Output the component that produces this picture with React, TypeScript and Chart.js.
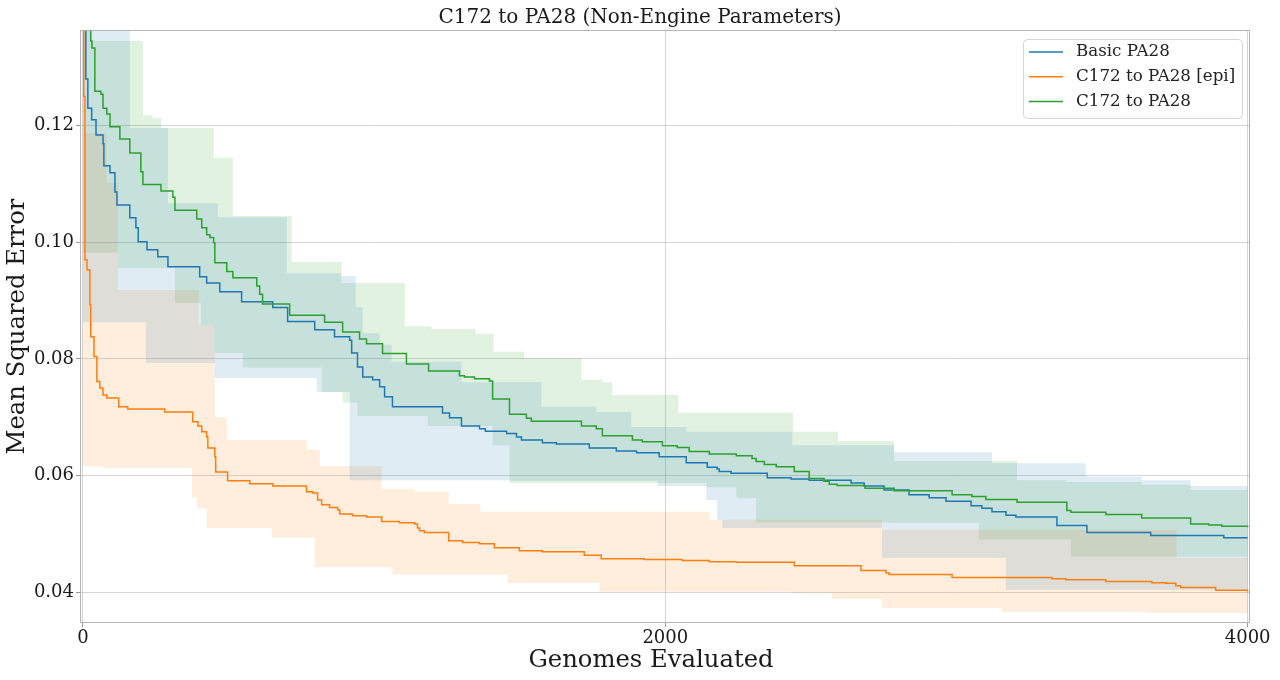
import React, { useEffect, useRef } from 'react';
import { Chart, registerables } from 'chart.js';

Chart.register(...registerables);

const FONT = "'DejaVu Serif', 'Liberation Serif', serif";

// tick labels
const xTicks = [0, 2000, 4000];
const yTicks = [0.04, 0.06, 0.08, 0.1, 0.12];

const chartTitle = 'C172 to PA28 (Non-Engine Parameters)';
const xLabel = 'Genomes Evaluated';
const yLabel = 'Mean Squared Error';

const seriesLabels = ['Basic PA28', 'C172 to PA28 [epi]', 'C172 to PA28'];
const seriesColors = ['#1f77b4', '#ff7f0e', '#2ca02c'];
const bandColors = ['rgba(31,119,180,0.14)', 'rgba(255,127,14,0.14)', 'rgba(44,160,44,0.14)'];

// Basic PA28 - mean best error
const blueX = [0, 10, 17, 30, 45, 69, 72, 93, 110, 117, 161, 182, 190, 220, 257, 292, 401, 425, 470, 545, 652, 703, 796, 864, 916, 923, 943, 961, 995, 1019, 1036, 1063, 1235, 1259, 1300, 1362, 1382, 1455, 1489, 1506, 1578, 1626, 1739, 1832, 1901, 1979, 2072, 2144, 2178, 2185, 2226, 2350, 2432, 2494, 2638, 2683, 2751, 2837, 2906, 2964, 3050, 3087, 3122, 3170, 3204, 3345, 3448, 3667, 3918, 4000];
const blueY = [0.140, 0.128, 0.123, 0.121, 0.1184, 0.1169, 0.1131, 0.1119, 0.1086, 0.1064, 0.1042, 0.1025, 0.1001, 0.0987, 0.0975, 0.0958, 0.0941, 0.0930, 0.0915, 0.0898, 0.0888, 0.0864, 0.0850, 0.0838, 0.0832, 0.0810, 0.0786, 0.0769, 0.0764, 0.0752, 0.0735, 0.0718, 0.0707, 0.0699, 0.0685, 0.0680, 0.0676, 0.0672, 0.0666, 0.0661, 0.0656, 0.0654, 0.0647, 0.0642, 0.0639, 0.0632, 0.0622, 0.0614, 0.0611, 0.0607, 0.0604, 0.0596, 0.0594, 0.0592, 0.0587, 0.0582, 0.0575, 0.0567, 0.0562, 0.0556, 0.0548, 0.0544, 0.0538, 0.0532, 0.0529, 0.0514, 0.0502, 0.0497, 0.0493, 0.0493];
// Basic PA28 - max / min
const blueHiX = [0, 161, 292, 463, 700, 888, 937, 961, 1019, 1060, 1300, 1575, 1763, 1883, 2072, 2436, 2786, 3122, 3444, 3636, 3804, 4000];
const blueHiY = [0.160, 0.1196, 0.1067, 0.1043, 0.0947, 0.0942, 0.0889, 0.0844, 0.0824, 0.0795, 0.0760, 0.0718, 0.0709, 0.0683, 0.0675, 0.0652, 0.0640, 0.0621, 0.0598, 0.0592, 0.0582, 0.0582];
const blueLoX = [0, 216, 453, 803, 916, 1465, 1973, 2141, 2178, 2196, 2744, 3170, 4000];
const blueLoY = [0.0863, 0.0793, 0.0767, 0.0743, 0.0592, 0.0591, 0.0582, 0.0558, 0.0524, 0.0510, 0.0459, 0.0404, 0.0404];

// C172 to PA28 [epi]
const orangeX = [0, 3, 7, 14, 24, 27, 38, 48, 58, 69, 82, 123, 154, 281, 377, 395, 408, 425, 429, 453, 456, 497, 573, 652, 768, 789, 806, 820, 847, 875, 882, 926, 974, 1026, 1087, 1139, 1149, 1156, 1173, 1256, 1304, 1362, 1413, 1499, 1578, 1722, 1780, 1928, 2058, 2151, 2244, 2443, 2672, 2758, 2768, 2985, 3328, 3376, 3513, 3671, 3719, 3753, 3770, 3890, 4000];
const orangeY = [0.150, 0.125, 0.097, 0.0953, 0.0893, 0.0838, 0.0804, 0.0761, 0.0750, 0.0738, 0.0733, 0.0718, 0.0714, 0.0709, 0.0692, 0.0685, 0.0675, 0.0666, 0.0647, 0.0632, 0.0606, 0.0591, 0.0586, 0.0582, 0.0572, 0.0570, 0.0558, 0.0550, 0.0545, 0.0541, 0.0534, 0.0531, 0.0529, 0.0521, 0.0519, 0.0517, 0.0510, 0.0505, 0.0502, 0.0488, 0.0485, 0.0483, 0.0476, 0.0471, 0.0469, 0.0463, 0.0457, 0.0456, 0.0454, 0.0452, 0.0451, 0.0445, 0.0437, 0.0433, 0.0430, 0.0425, 0.0423, 0.0421, 0.0418, 0.0416, 0.0415, 0.0411, 0.0408, 0.0403, 0.0401];
const orangeHiX = [0, 3, 82, 120, 398, 453, 494, 768, 813, 1026, 1139, 1256, 1365, 2151, 2744, 3756, 4000];
const orangeHiY = [0.160, 0.1187, 0.1102, 0.0918, 0.0858, 0.0700, 0.0661, 0.0644, 0.0616, 0.0577, 0.0572, 0.0551, 0.0538, 0.0524, 0.0507, 0.0459, 0.0459];
const orangeLoX = [0, 69, 374, 391, 425, 648, 796, 1063, 1458, 1774, 2436, 2573, 2744, 3156, 3650, 4000];
const orangeLoY = [0.0616, 0.0613, 0.0563, 0.0544, 0.0510, 0.0493, 0.0443, 0.0430, 0.0416, 0.0401, 0.0399, 0.0388, 0.0373, 0.0366, 0.0364, 0.0364];

// C172 to PA28
const greenX = [0, 27, 31, 41, 62, 69, 82, 93, 127, 161, 199, 206, 268, 309, 316, 391, 408, 425, 436, 449, 453, 494, 515, 597, 607, 617, 710, 830, 892, 950, 974, 1029, 1111, 1187, 1293, 1310, 1345, 1396, 1407, 1465, 1523, 1540, 1712, 1763, 1784, 1887, 1921, 1990, 2041, 2082, 2151, 2244, 2298, 2312, 2340, 2381, 2443, 2494, 2545, 2563, 2590, 2686, 2786, 2985, 3053, 3101, 3208, 3379, 3393, 3513, 3636, 3804, 3866, 3911, 4000];
const greenY = [0.160, 0.1345, 0.1333, 0.1259, 0.1254, 0.1230, 0.1220, 0.1198, 0.1177, 0.1153, 0.1121, 0.1099, 0.1088, 0.1077, 0.1055, 0.1040, 0.1025, 0.1013, 0.1008, 0.0999, 0.0965, 0.0950, 0.0939, 0.0925, 0.0911, 0.0894, 0.0875, 0.0863, 0.0846, 0.0834, 0.0826, 0.0809, 0.0791, 0.0779, 0.0771, 0.0769, 0.0766, 0.0762, 0.0731, 0.0705, 0.0698, 0.0693, 0.0685, 0.0680, 0.0668, 0.0661, 0.0658, 0.0651, 0.0648, 0.0641, 0.0637, 0.0634, 0.0629, 0.0624, 0.0619, 0.0615, 0.0607, 0.0595, 0.0590, 0.0585, 0.0583, 0.0578, 0.0574, 0.0567, 0.0564, 0.0559, 0.0554, 0.0540, 0.0537, 0.0533, 0.0527, 0.0517, 0.0515, 0.0513, 0.0511];
const greenHiX = [0, 27, 206, 240, 268, 449, 515, 717, 888, 1105, 1197, 1348, 1410, 1516, 1712, 1784, 1818, 2045, 2439, 2593, 2786, 3208, 3376, 3636, 3804, 4000];
const greenHiY = [0.160, 0.1345, 0.1218, 0.1213, 0.1196, 0.1145, 0.1045, 0.0966, 0.0930, 0.0856, 0.0851, 0.0843, 0.0812, 0.0801, 0.0764, 0.0760, 0.0738, 0.0707, 0.0675, 0.0659, 0.0625, 0.0592, 0.0589, 0.0584, 0.0575, 0.0575];
const greenLoX = [0, 120, 316, 405, 453, 549, 820, 892, 943, 1184, 1407, 1465, 2141, 2244, 2312, 2768, 3077, 3393, 4000];
const greenLoY = [0.0982, 0.0956, 0.0896, 0.0858, 0.0810, 0.0785, 0.0743, 0.0725, 0.0702, 0.0685, 0.0652, 0.0587, 0.0580, 0.0561, 0.0520, 0.0519, 0.0490, 0.0461, 0.0461];

const pts = (xs: number[], ys: number[]) => xs.map((x, i) => ({ x, y: ys[i] }));

const means = [pts(blueX, blueY), pts(orangeX, orangeY), pts(greenX, greenY)];
const highs = [pts(blueHiX, blueHiY), pts(orangeHiX, orangeHiY), pts(greenHiX, greenHiY)];
const lows = [pts(blueLoX, blueLoY), pts(orangeLoX, orangeLoY), pts(greenLoX, greenLoY)];

const GRID = 'rgba(150,150,150,0.4)';
const TEXT = '#1a1a1a';

// box around the plot area, like matplotlib spines
const framePlugin = {
  id: 'frame',
  afterDatasetsDraw(chart: any) {
    const { ctx, chartArea: a } = chart;
    ctx.save();
    ctx.strokeStyle = '#b5b5b5';
    ctx.lineWidth = 1;
    ctx.strokeRect(a.left + 0.5, a.top + 0.5, a.width - 1, a.height - 1);
    ctx.restore();
  },
};

// x axis label sits a little left of the plot centre in the original
const xLabelPlugin = {
  id: 'xLabel',
  afterDraw(chart: any) {
    const { ctx } = chart;
    ctx.save();
    ctx.font = `24.3px ${FONT}`;
    ctx.fillStyle = TEXT;
    ctx.textAlign = 'center';
    ctx.textBaseline = 'middle';
    ctx.fillText(xLabel, 651, 661);
    ctx.restore();
  },
};

// legend in the upper right corner with a rounded frame
const boxLegend = {
  id: 'boxLegend',
  afterDraw(chart: any) {
    const { ctx, chartArea: a } = chart;
    const w = 219;
    const h = 79;
    const x = a.right - 8 - w;
    const y = a.top + 9;
    ctx.save();
    ctx.beginPath();
    ctx.roundRect(x + 0.5, y + 0.5, w, h, 4);
    ctx.fillStyle = 'rgba(255,255,255,0.8)';
    ctx.fill();
    ctx.strokeStyle = '#d5d5d5';
    ctx.lineWidth = 1;
    ctx.stroke();
    ctx.font = `16.7px ${FONT}`;
    ctx.textBaseline = 'middle';
    ctx.textAlign = 'left';
    seriesLabels.forEach((label, i) => {
      const cy = y + 13 + i * 24.7;
      ctx.strokeStyle = seriesColors[i];
      ctx.lineWidth = 1.5;
      ctx.beginPath();
      ctx.moveTo(x + 6, cy);
      ctx.lineTo(x + 40, cy);
      ctx.stroke();
      ctx.fillStyle = '#222';
      ctx.fillText(label, x + 53, cy);
    });
    ctx.restore();
  },
};

const MseChart: React.FC = () => {
  const canvasRef = useRef<HTMLCanvasElement>(null);
  const chartRef = useRef<Chart | null>(null);

  useEffect(() => {
    if (!canvasRef.current) return;
    if (chartRef.current) chartRef.current.destroy();

    const bands: any[] = [];
    highs.forEach((hi, i) => {
      bands.push({
        label: seriesLabels[i] + ' max',
        data: hi,
        stepped: true,
        borderColor: 'rgba(0,0,0,0)',
        borderWidth: 0,
        pointRadius: 0,
        backgroundColor: bandColors[i],
        fill: '+1',
        order: 10,
      });
      bands.push({
        label: seriesLabels[i] + ' min',
        data: lows[i],
        stepped: true,
        borderColor: 'rgba(0,0,0,0)',
        borderWidth: 0,
        pointRadius: 0,
        fill: false,
        order: 10,
      });
    });

    const lines = means.map((m, i) => ({
      label: seriesLabels[i],
      data: m,
      stepped: true,
      borderColor: seriesColors[i],
      borderWidth: 1.5,
      pointRadius: 0,
      fill: false,
      order: 3 - i,
    }));

    chartRef.current = new Chart(canvasRef.current, {
      type: 'line',
      data: { datasets: [...bands, ...lines] },
      options: {
        responsive: true,
        maintainAspectRatio: false,
        animation: false,
        events: [],
        layout: { padding: 0 },
        scales: {
          x: {
            type: 'linear',
            min: -10,
            max: 4008,
            afterFit: (scale: any) => { scale.height = 57; },
            afterBuildTicks: (scale: any) => { scale.ticks = xTicks.map((v) => ({ value: v })); },
            border: { display: false },
            grid: { color: GRID, tickColor: '#9a9a9a', tickLength: 4 },
            ticks: {
              color: TEXT,
              padding: 1,
              maxRotation: 0,
              font: { family: FONT, size: 18 },
              callback: (v: any) => String(v),
            },
          },
          y: {
            type: 'linear',
            min: 0.0347,
            max: 0.1364,
            afterFit: (scale: any) => { scale.width = 80; },
            afterBuildTicks: (scale: any) => { scale.ticks = yTicks.map((v) => ({ value: v })); },
            border: { display: false },
            grid: { color: GRID, tickColor: '#9a9a9a', tickLength: 4 },
            ticks: {
              color: TEXT,
              padding: 2,
              font: { family: FONT, size: 18 },
              callback: (v: any) => Number(v).toFixed(2),
            },
            title: {
              display: true,
              text: yLabel,
              color: TEXT,
              font: { family: FONT, size: 24.3 },
              padding: { top: 3.4, bottom: 0 },
            },
          },
          // empty right-hand strip so the plot ends at the same place
          yRight: {
            position: 'right',
            afterFit: (scale: any) => { scale.width = 30; },
            grid: { display: false },
            border: { display: false },
            ticks: { display: false },
          },
        },
        plugins: {
          legend: { display: false },
          tooltip: { enabled: false },
          filler: { drawTime: 'beforeDatasetsDraw', propagate: false },
          title: {
            display: true,
            text: chartTitle,
            color: TEXT,
            font: { family: FONT, size: 20, weight: 'normal' },
            padding: { top: 6, bottom: 0 },
          },
        },
      } as any,
      plugins: [framePlugin, xLabelPlugin, boxLegend],
    });

    return () => {
      if (chartRef.current) {
        chartRef.current.destroy();
        chartRef.current = null;
      }
    };
  }, []);

  return (
    <div style={{ position: 'absolute', left: 0, top: 0, width: 1280, height: 680, background: '#fff' }}>
      <canvas ref={canvasRef}></canvas>
    </div>
  );
};

export default function App() {
  return <MseChart />;
}
